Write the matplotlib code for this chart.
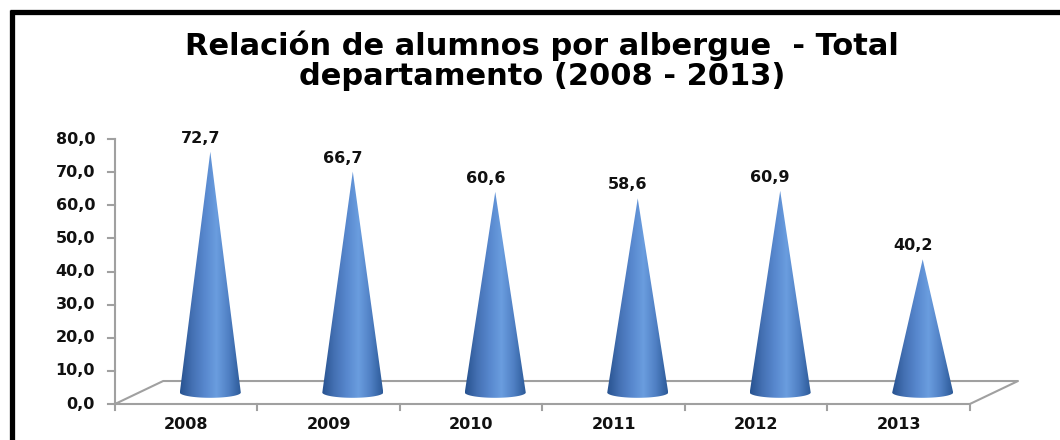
import matplotlib.pyplot as plt
import numpy as np
from matplotlib.path import Path
from matplotlib.patches import PathPatch
from matplotlib.colors import LinearSegmentedColormap
from matplotlib.lines import Line2D

# Data
years = ["2008", "2009", "2010", "2011", "2012", "2013"]
ratio = [72.7, 66.7, 60.6, 58.6, 60.9, 40.2]
y_ticks = [0, 10, 20, 30, 40, 50, 60, 70, 80]

title = "Relación de alumnos por albergue  - Total\ndepartamento (2008 - 2013)"

# 3D look (in data units)
depth_x = 0.338      # category units
depth_y = 6.94       # value units
cone_half_w = 0.214
base_ry = 1.6
grey = "#a0a0a0"

cone_cmap = LinearSegmentedColormap.from_list(
    "cone", ["#27528f", "#4470b3", "#5787cd", "#6a9ddf", "#5080c4", "#2c5a98"])

plt.rcParams["font.family"] = "DejaVu Sans"

fig = plt.figure(figsize=(10.6, 4.4), dpi=100)
ax = fig.add_axes([115 / 1060, 36 / 440, 903 / 1060, 265 / 440])
ax.set_xlim(0, 6 + depth_x)
ax.set_ylim(0, 80)
ax.axis("off")

n = len(years)

# floor (parallelogram)
floor_x = [0, n, n + depth_x, depth_x, 0]
floor_y = [0, 0, depth_y, depth_y, 0]
ax.plot(floor_x, floor_y, color=grey, lw=1.5, clip_on=False, zorder=1)

# value axis
ax.plot([0, 0], [0, 80], color=grey, lw=1.5, clip_on=False, zorder=1)
for t in y_ticks:
    ax.plot([-0.05, 0], [t, t], color=grey, lw=1.5, clip_on=False)
    ax.text(-0.14, t, f"{t:.1f}".replace(".", ","), ha="right", va="center",
            fontsize=11.5, fontweight="bold", color="#111111")

# category ticks and labels
for i in range(n + 1):
    ax.plot([i, i], [0, -1.8], color=grey, lw=1.5, clip_on=False)
for i, yr in enumerate(years):
    ax.text(i + 0.5, -6.2, yr, ha="center", va="center",
            fontsize=11.5, fontweight="bold", color="#111111")

# cones with horizontal gradient
grad = np.linspace(0, 1, 256).reshape(1, -1)
t = np.linspace(np.pi, 2 * np.pi, 40)
for i, v in enumerate(ratio):
    cx = i + 0.5 + depth_x / 2
    by = depth_y / 2
    verts = [(cx - cone_half_w, by), (cx, by + v), (cx + cone_half_w, by)]
    verts += [(cx + cone_half_w * np.cos(a), by + base_ry * np.sin(a)) for a in t[::-1]]
    verts.append(verts[0])
    codes = [Path.MOVETO] + [Path.LINETO] * (len(verts) - 2) + [Path.CLOSEPOLY]
    patch = PathPatch(Path(verts, codes), facecolor="none", edgecolor="none")
    ax.add_patch(patch)
    im = ax.imshow(grad, cmap=cone_cmap, aspect="auto", zorder=3,
                   extent=[cx - cone_half_w, cx + cone_half_w, by - base_ry, by + v])
    im.set_clip_path(patch)
    ax.text(cx - 0.07, by + v + 1.8, f"{v:.1f}".replace(".", ","),
            ha="center", va="bottom", fontsize=11.5, fontweight="bold",
            color="#111111")

fig.text(542 / 1060, 1 - 61 / 440, title, ha="center", va="center",
         fontsize=22, fontweight="bold", linespacing=1.05)

# black border (top and left edges of the chart frame)
fig.add_artist(Line2D([10 / 1060, 1], [1 - 12.5 / 440] * 2, color="black",
                      lw=3.8, solid_capstyle="butt"))
fig.add_artist(Line2D([12 / 1060] * 2, [0, 1 - 10.5 / 440], color="black",
                      lw=3.8, solid_capstyle="butt"))

fig.savefig("out.png", dpi=100)
